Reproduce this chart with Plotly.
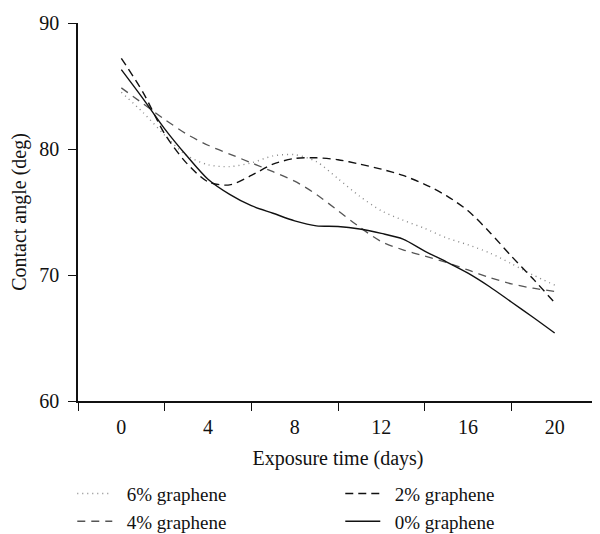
import plotly.graph_objects as go

days = list(range(0, 21))

g6 = [84.5, 82.9, 81.1, 79.5, 78.75, 78.6, 78.9, 79.45, 79.55, 79.0, 77.65,
      76.25, 75.1, 74.35, 73.7, 72.95, 72.4, 71.75, 70.9, 70.0, 69.2]
g2 = [87.2, 84.5, 81.2, 78.9, 77.4, 77.15, 77.9, 78.8, 79.25, 79.3, 79.15,
      78.8, 78.4, 77.9, 77.2, 76.3, 75.1, 73.4, 71.5, 69.7, 67.8]
g4 = [84.85, 83.6, 82.35, 81.2, 80.3, 79.6, 78.9, 78.2, 77.45, 76.4, 75.1,
      73.8, 72.65, 72.0, 71.5, 71.0, 70.4, 69.8, 69.3, 68.95, 68.7]
g0 = [86.3, 84.0, 81.6, 79.5, 77.6, 76.4, 75.5, 74.9, 74.3, 73.9, 73.85,
      73.65, 73.3, 72.85, 71.9, 71.05, 70.15, 69.07, 67.86, 66.65, 65.4]

names = ["6% graphene", "2% graphene", "4% graphene", "0% graphene"]
series = [g6, g2, g4, g0]
colors = ["#8a8a8a", "#111111", "#555555", "#111111"]
dashes = ["1px,4px", "8px,5px", "8px,6px", "solid"]
widths = [1.4, 1.4, 1.3, 1.4]

xticks = [0, 4, 8, 12, 16, 20]
yticks = [60, 70, 80, 90]

FONT = "Liberation Serif, Times New Roman, serif"
FS = 20
NB = "\u00a0\u00a0"

fig = go.Figure()
for name, ys, c, d, w in zip(names, series, colors, dashes, widths):
    fig.add_trace(go.Scatter(
        x=days, y=ys, mode="lines", name=NB + name,
        line=dict(color=c, dash=d, width=w, shape="spline", smoothing=0.8),
    ))

# page has an 8px body margin, so the figure is 8px smaller in each direction
fig.update_layout(
    width=592, height=526,
    margin=dict(l=70, r=2, t=15, b=133, autoexpand=False),
    paper_bgcolor="white", plot_bgcolor="white",
    font=dict(family=FONT, size=FS, color="#111111"),
    showlegend=True,
    legend=dict(
        orientation="h", x=-0.011, xanchor="left", y=-0.195, yanchor="top",
        entrywidth=218, entrywidthmode="pixels", itemwidth=35,
        font=dict(family=FONT, size=19, color="#111111"),
        bgcolor="rgba(0,0,0,0)", traceorder="normal",
    ),
    xaxis=dict(
        range=[-2, 22], tickmode="array", tickvals=xticks,
        ticktext=[str(v) for v in xticks], ticks="",
        ticklabelstandoff=7,
        minor=dict(ticks="outside", tick0=-2, dtick=4, ticklen=8,
                   tickwidth=1.3, tickcolor="#111111", showgrid=False),
        showline=True, linecolor="#111111", linewidth=1.5,
        showgrid=False, zeroline=False,
        title=dict(text="Exposure time (days)", standoff=14,
                   font=dict(family=FONT, size=FS)),
    ),
    yaxis=dict(
        range=[60, 90], tickmode="array", tickvals=yticks,
        ticks="outside", ticklen=8, tickwidth=1.3, tickcolor="#111111",
        ticklabelstandoff=5,
        showline=True, linecolor="#111111", linewidth=1.5,
        showgrid=False, zeroline=False,
        title=dict(text="Contact angle (deg)", standoff=8,
                   font=dict(family=FONT, size=FS)),
    ),
)

fig.write_html("out.html")
